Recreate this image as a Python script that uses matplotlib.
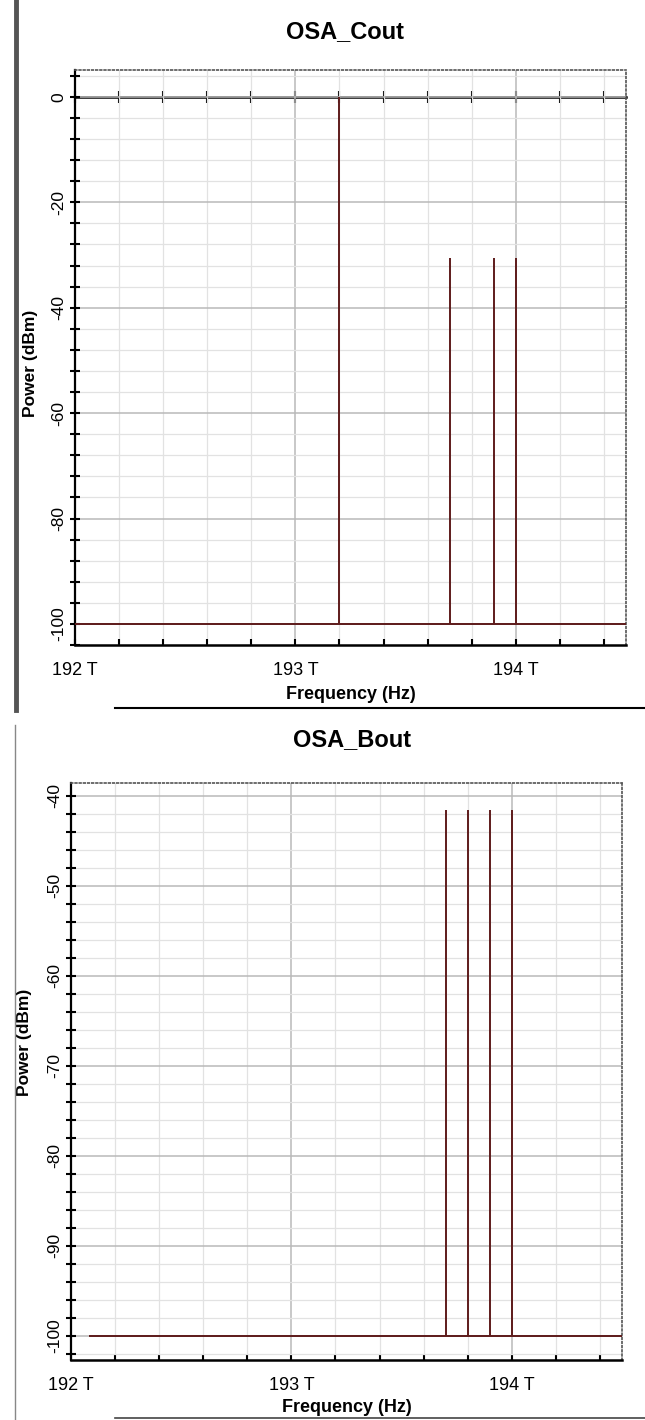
import matplotlib
matplotlib.use("Agg")

import matplotlib.pyplot as plt
from matplotlib.lines import Line2D
from matplotlib.ticker import MultipleLocator, FuncFormatter

plt.rcParams["font.family"] = ["Liberation Sans", "DejaVu Sans"]
plt.rcParams["axes.unicode_minus"] = False

# Spectrum data, frequencies in THz, power in dBm
NOISE_FLOOR = -100.0

cout_span = (192.0, 194.5)
cout_freqs = [193.2, 193.7, 193.9, 194.0]
cout_power = [0.0, -30.5, -30.5, -30.5]

bout_span = (192.08, 194.5)
bout_freqs = [193.7, 193.8, 193.9, 194.0]
bout_power = [-41.6, -41.6, -41.6, -41.6]

TRACE = "#5e1b1b"


def thz_label(v, pos):
    return "%d T" % round(v)


def setup(ax, ylim, ymajor, yminor, zero_axis):
    ax.set_xlim(192.0, 194.5)
    ax.set_ylim(*ylim)
    ax.xaxis.set_major_locator(MultipleLocator(1.0))
    ax.xaxis.set_minor_locator(MultipleLocator(0.2))
    ax.xaxis.set_major_formatter(FuncFormatter(thz_label))
    ax.yaxis.set_major_locator(MultipleLocator(ymajor))
    ax.yaxis.set_minor_locator(MultipleLocator(yminor))

    ax.grid(which="minor", color="#e2e2e2", lw=0.9)
    ax.grid(which="major", color="#b9b9b9", lw=1.1)
    ax.set_axisbelow(True)

    ax.spines["left"].set_linewidth(1.6)
    ax.spines["left"].set_color("black")
    ax.spines["bottom"].set_linestyle((0, (1, 1)))
    ax.spines["bottom"].set_linewidth(1.8)
    for s in ("top", "right"):
        ax.spines[s].set_linestyle((0, (1, 1.5)))
        ax.spines[s].set_linewidth(1.2)
        ax.spines[s].set_color("#555555")

    ax.tick_params(axis="x", which="both", direction="in", length=4, width=1.5,
                   pad=12, labelsize=13)
    ax.tick_params(axis="y", which="both", direction="inout", length=7, width=1.5,
                   pad=3, labelsize=12.5)
    for t in ax.get_yticklabels():
        t.set_rotation(90)
        t.set_va("center")

    ax.set_xlabel("Frequency (Hz)", fontsize=13, fontweight="bold", labelpad=0)
    ax.set_ylabel("Power (dBm)", fontsize=12.5, fontweight="bold")

    if zero_axis:
        sec = ax.secondary_xaxis(0, transform=ax.transData)
        sec.spines["bottom"].set_linewidth(1.8)
        sec.set_xticks([])
        sec.xaxis.set_minor_locator(MultipleLocator(0.2))
        sec.tick_params(which="both", direction="inout", length=8, width=1.5,
                        labelbottom=False)


def draw_trace(ax, span, freqs, power):
    ax.hlines(NOISE_FLOOR, span[0], span[1], color=TRACE, lw=1.4, zorder=3)
    ax.vlines(freqs, NOISE_FLOOR, power, color=TRACE, lw=1.4, zorder=3)


fig = plt.figure(figsize=(6.45, 14.2), dpi=100)
W, H = 645.0, 1420.0

ax1 = fig.add_axes([75 / W, 1 - 645 / H, 551 / W, 575 / H])
setup(ax1, (-104.0, 5.1), 20, 4, True)
draw_trace(ax1, cout_span, cout_freqs, cout_power)
ax1.xaxis.set_label_coords(0.5, -0.072)
ax1.yaxis.set_label_coords(-0.068, 0.49)

ax2 = fig.add_axes([71 / W, 1 - 1360 / H, 551 / W, 577 / H])
setup(ax2, (-102.7, -38.6), 10, 2, False)
draw_trace(ax2, bout_span, bout_freqs, bout_power)
ax2.xaxis.set_label_coords(0.5, -0.068)
ax2.yaxis.set_label_coords(-0.07, 0.55)

fig.text(345 / W, 1 - 32 / H, "OSA_Cout", ha="center", va="center",
         fontsize=17, fontweight="bold")
fig.text(352 / W, 1 - 740 / H, "OSA_Bout", ha="center", va="center",
         fontsize=17, fontweight="bold")

# window frame edges around the two panels
fig.add_artist(Line2D([16 / W, 16 / W], [1.0, 1 - 710 / H], color="#555555", lw=3.5))
fig.add_artist(Line2D([115 / W, 1.0], [1 - 708 / H, 1 - 708 / H], color="black", lw=1.5))
fig.add_artist(Line2D([15 / W, 15 / W], [1 - 725 / H, 0.0], color="#888888", lw=1.0))
fig.add_artist(Line2D([115 / W, 1.0], [1 - 1418 / H, 1 - 1418 / H], color="#444444", lw=1.2))

fig.savefig("out.png", dpi=100, facecolor="white")
